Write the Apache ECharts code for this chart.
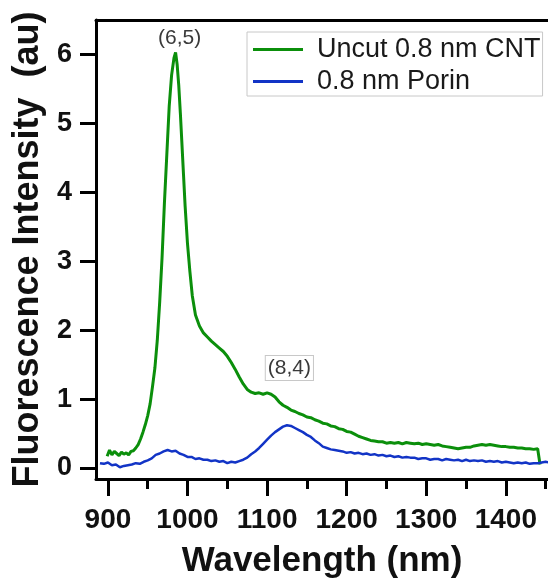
<!DOCTYPE html>
<html>
<head>
<meta charset="utf-8">
<script src="https://cdn.jsdelivr.net/npm/echarts@6/dist/echarts.min.js"></script>
<style>html,body{margin:0;padding:0;background:#fff;}#c{width:548px;height:584px;}</style>
</head>
<body>
<div id="c"></div>
<script>
// ---- data ----
const seriesNames = ['Uncut 0.8 nm CNT', '0.8 nm Porin'];
const xTicks = [900, 1000, 1100, 1200, 1300, 1400];
const xMinorTicks = [950, 1050, 1150, 1250, 1350, 1450];
const yTicks = [0, 1, 2, 3, 4, 5, 6];
const peakLabels = ['(6,5)', '(8,4)'];
const peakLabelPos = [[990, 6.24], [1128, 1.45]];

const greenX = [899,902,905,908,911,914,917,920,923,926,929,932,935,938,941,944,947,950,953,956,959,962,965,968,971,974,977,980,983,985,987,989,991,993,995,997,1000,1003,1006,1010,1015,1020,1025,1030,1035,1040,1045,1050,1055,1060,1065,1070,1075,1080,1085,1090,1095,1100,1105,1110,1115,1120,1125,1130,1135,1140,1145,1150,1155,1160,1165,1170,1175,1180,1185,1190,1195,1200,1205,1210,1215,1220,1225,1230,1235,1240,1245,1250,1255,1260,1265,1270,1275,1280,1285,1290,1295,1300,1305,1310,1315,1320,1325,1330,1335,1340,1345,1350,1355,1360,1365,1370,1375,1380,1385,1390,1395,1400,1405,1410,1415,1420,1425,1430,1435,1440,1443];
const greenY = [0.17,0.26,0.19,0.24,0.21,0.18,0.23,0.20,0.22,0.19,0.24,0.25,0.29,0.34,0.42,0.52,0.63,0.76,0.93,1.18,1.45,1.85,2.40,3.05,3.85,4.55,5.25,5.70,5.95,6.03,5.85,5.55,5.15,4.70,4.25,3.80,3.25,2.85,2.50,2.22,2.06,1.96,1.90,1.84,1.79,1.74,1.69,1.62,1.53,1.43,1.32,1.22,1.14,1.10,1.08,1.09,1.07,1.09,1.07,1.03,0.96,0.91,0.88,0.84,0.82,0.79,0.77,0.74,0.73,0.70,0.68,0.65,0.64,0.61,0.60,0.57,0.56,0.53,0.52,0.49,0.46,0.44,0.42,0.40,0.39,0.38,0.38,0.36,0.37,0.36,0.37,0.35,0.37,0.36,0.35,0.36,0.34,0.35,0.34,0.33,0.34,0.32,0.31,0.30,0.29,0.28,0.29,0.30,0.30,0.32,0.33,0.34,0.33,0.34,0.33,0.32,0.31,0.31,0.30,0.30,0.29,0.29,0.28,0.28,0.27,0.28,0.05];

const blueX = [890,895,900,905,910,915,920,925,930,935,940,945,950,955,960,965,970,975,980,985,990,995,1000,1005,1010,1015,1020,1025,1030,1035,1040,1045,1050,1055,1060,1065,1070,1075,1080,1085,1090,1095,1100,1105,1110,1115,1120,1125,1130,1135,1140,1145,1150,1155,1160,1165,1170,1175,1180,1185,1190,1195,1200,1205,1210,1215,1220,1225,1230,1235,1240,1245,1250,1255,1260,1265,1270,1275,1280,1285,1290,1295,1300,1305,1310,1315,1320,1325,1330,1335,1340,1345,1350,1355,1360,1365,1370,1375,1380,1385,1390,1395,1400,1405,1410,1415,1420,1425,1430,1435,1440,1445,1450,1455];
const blueY = [0.07,0.06,0.08,0.04,0.05,0.01,0.03,0.04,0.05,0.07,0.06,0.09,0.11,0.14,0.19,0.21,0.24,0.26,0.24,0.25,0.21,0.19,0.16,0.16,0.13,0.14,0.12,0.12,0.10,0.11,0.09,0.10,0.07,0.09,0.08,0.10,0.12,0.15,0.20,0.24,0.29,0.35,0.41,0.47,0.52,0.56,0.60,0.62,0.61,0.58,0.55,0.52,0.48,0.45,0.40,0.36,0.31,0.29,0.27,0.26,0.25,0.24,0.22,0.23,0.21,0.22,0.20,0.21,0.19,0.20,0.18,0.19,0.17,0.18,0.16,0.17,0.15,0.16,0.15,0.15,0.13,0.14,0.14,0.12,0.13,0.13,0.11,0.13,0.12,0.11,0.12,0.10,0.12,0.10,0.11,0.10,0.11,0.09,0.10,0.09,0.10,0.08,0.09,0.08,0.07,0.08,0.07,0.08,0.06,0.07,0.07,0.08,0.09,0.08];

const colors = ['#0b8f0b', '#1234c6'];

// ---- chart ----
const chart = echarts.init(document.getElementById('c'), null, {renderer: 'canvas'});
const font = "'Liberation Sans', Arial, sans-serif";
const pair = (xs, ys) => xs.map((x, i) => [x, ys[i]]);
const plain = v => String(v);

const option = {
  animation: false,
  backgroundColor: '#fff',
  grid: {left: 96, top: 20, right: 0, bottom: 101, containLabel: false},
  legend: {
    left: 247, top: 32, orient: 'vertical',
    data: seriesNames,
    icon: 'rect', itemWidth: 50, itemHeight: 3, itemGap: 5,
    padding: [4, 2, 1, 6],
    borderColor: '#c8c8c8', borderWidth: 1,
    textStyle: {fontFamily: font, fontSize: 27, color: '#1a1a1a', lineHeight: 27, padding: [0, 0, 0, 9]}
  },
  xAxis: [
    {
      type: 'value', min: 885, max: 1453, position: 'bottom',
      name: 'Wavelength (nm)', nameLocation: 'middle', nameGap: 65,
      nameTextStyle: {fontFamily: font, fontSize: 35, fontWeight: 'bold', color: '#111'},
      axisLine: {show: true, onZero: false, lineStyle: {color: '#000', width: 3}},
      axisTick: {show: true, inside: false, length: 17, customValues: xTicks, lineStyle: {color: '#000', width: 3}},
      axisLabel: {show: true, customValues: xTicks, formatter: plain, margin: 27, fontFamily: font, fontSize: 28, fontWeight: 'bold', color: '#111'},
      splitLine: {show: false}
    },
    {
      type: 'value', min: 885, max: 1453, position: 'bottom',
      axisLine: {show: false, onZero: false},
      axisTick: {show: true, length: 10, customValues: xMinorTicks, lineStyle: {color: '#000', width: 3}},
      axisLabel: {show: false},
      splitLine: {show: false}
    },
    {
      type: 'value', min: 885, max: 1453, position: 'top',
      axisLine: {show: true, onZero: false, lineStyle: {color: '#000', width: 3}},
      axisTick: {show: false}, axisLabel: {show: false}, splitLine: {show: false}
    }
  ],
  yAxis: {
    type: 'value', min: -0.16, max: 6.5,
    name: 'Fluorescence Intensity  (au)', nameLocation: 'middle', nameGap: 49, nameRotate: 90,
    nameTextStyle: {fontFamily: font, fontSize: 36, fontWeight: 'bold', color: '#111'},
    axisLine: {show: true, onZero: false, lineStyle: {color: '#000', width: 3}},
    axisTick: {show: true, length: 16, customValues: yTicks, lineStyle: {color: '#000', width: 3}},
    axisLabel: {show: true, customValues: yTicks, formatter: plain, margin: 24, fontFamily: font, fontSize: 27, fontWeight: 'bold', color: '#111'},
    splitLine: {show: false}
  },
  series: [
    {
      name: seriesNames[0], type: 'line', xAxisIndex: 0, data: pair(greenX, greenY),
      symbol: 'none', lineStyle: {color: colors[0], width: 3}, itemStyle: {color: colors[0]},
      markPoint: {
        symbol: 'circle', symbolSize: 0, silent: true,
        label: {show: true, position: 'inside', fontFamily: font, fontSize: 21, color: '#3a3a3a'},
        data: [
          {coord: peakLabelPos[0], value: peakLabels[0], label: {formatter: peakLabels[0]}},
          {coord: peakLabelPos[1], value: peakLabels[1], label: {formatter: peakLabels[1], borderColor: '#c8c8c8', borderWidth: 1, padding: [2, 2, 1, 2], backgroundColor: '#fff'}}
        ]
      }
    },
    {
      name: seriesNames[1], type: 'line', xAxisIndex: 0, data: pair(blueX, blueY),
      symbol: 'none', lineStyle: {color: colors[1], width: 2.5}, itemStyle: {color: colors[1]}
    }
  ]
};
chart.setOption(option);
</script>
</body>
</html>
